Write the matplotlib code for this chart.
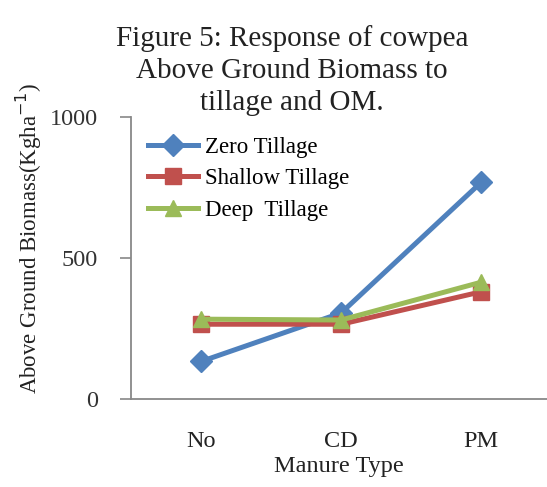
import numpy as np
import matplotlib.pyplot as plt

manure = ["No", "CD", "PM"]
zero_tillage = [133, 305, 768]
shallow_tillage = [265, 265, 380]
deep_tillage = [283, 280, 414]
y_ticks = [0, 500, 1000]

plt.rcParams['font.family'] = ['Liberation Serif', 'DejaVu Serif']

fig = plt.figure(figsize=(5.47, 4.87), dpi=100)
ax = fig.add_axes([0.2395, 0.1807, 0.7605, 0.5793])

x = np.arange(len(manure))
ax.plot(x, zero_tillage, color='#4F81BD', lw=3.6, marker='D', ms=11, label='Zero Tillage')
ax.plot(x, shallow_tillage, color='#C0504D', lw=3.6, marker='s', ms=11, label='Shallow Tillage')
ax.plot(x, deep_tillage, color='#9BBB59', lw=3.6, marker='^', ms=12, label='Deep  Tillage')

ax.set_xlim(-0.5, 2.47)
ax.set_ylim(0, 1000)
ax.set_xticks(x)
ax.set_xticklabels(manure, fontsize=17.5, color='#222222')
ax.set_yticks(y_ticks)
ax.set_yticklabels([str(v) for v in y_ticks], fontsize=17.5, color='#333333')
ax.tick_params(axis='x', length=0, pad=23)
ax.tick_params(axis='y', length=8, width=1.2, color='#888888', pad=16)
for s in ['top', 'right']:
    ax.spines[s].set_visible(False)
for s in ['left', 'bottom']:
    ax.spines[s].set_color('#888888')
    ax.spines[s].set_linewidth(1.3)

ax.set_xlabel('Manure Type', fontsize=17.5, color='#222222', labelpad=3)
ax.set_ylabel('Above Ground Biomass(Kgha$^{-1}$)', fontsize=16.5, color='#222222')
ax.yaxis.set_label_coords(-0.21, 0.57)

fig.text(0.534, 0.948, 'Figure 5: Response of cowpea\nAbove Ground Biomass to\ntillage and OM.',
         ha='center', va='top', fontsize=21, color='#222222', linespacing=1.3)

leg = ax.legend(loc='upper left', bbox_to_anchor=(0.04, 0.93), frameon=False, fontsize=16.5,
                handlelength=2.2, handletextpad=0.3, labelspacing=0.47, borderaxespad=0.0,
                borderpad=0.0)

fig.savefig('out.png', dpi=100)
